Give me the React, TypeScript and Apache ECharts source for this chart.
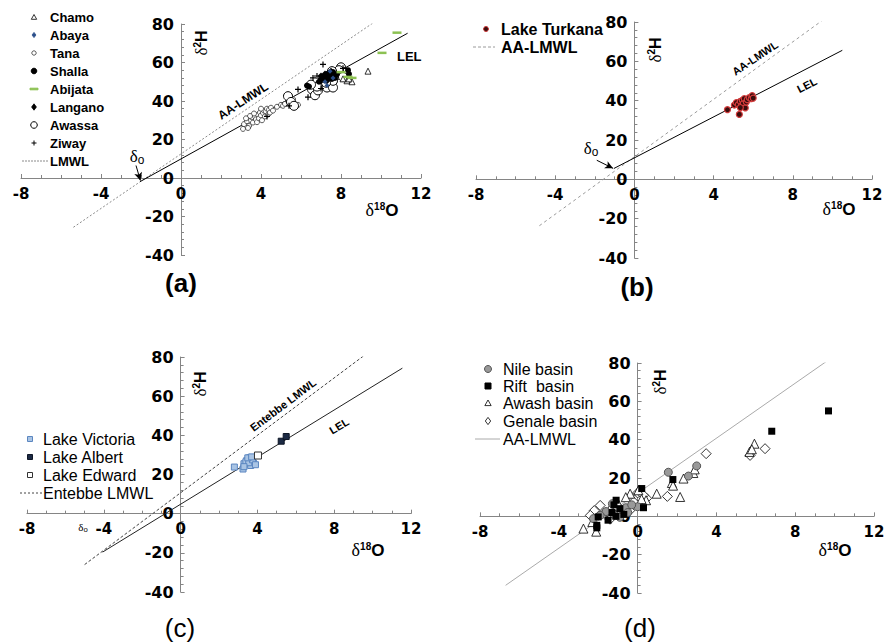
import React, { useEffect, useRef } from "react";
import * as echarts from "echarts";

// ---- axis ranges / tick labels ----
const X_RANGE = [-8, 12];
const X_STEP = 4;
const Y_RANGE = [-40, 80];
const Y_STEP = 20;

// ---- panel (a) ----
const lmwlA = [[-5.38, -25.6], [10.3, 85.5]];
const lelA = [[-2.05, -1.9], [11.33, 75.2]];
const arrowA = [[-2.25, 6.5], [-2.03, -1.3]];
const tana = [
  [3.1, 25.5], [3.15, 28], [3.3, 29.5], [3.4, 27], [3.5, 30], [3.55, 31.5], [3.6, 28.8], [3.7, 32],
  [3.75, 30.5], [3.8, 29], [3.85, 33], [3.9, 31], [3.95, 34], [4.0, 32.5], [4.05, 30], [4.1, 33.8],
  [4.15, 35], [4.2, 32], [4.25, 34.5], [4.3, 36], [4.35, 33], [4.4, 35.5], [4.45, 34], [4.5, 36.5],
  [3.65, 33.5], [3.45, 32.2], [4.6, 35], [4.0, 36], [4.8, 37], [5.0, 38], [5.1, 37.5], [5.2, 38.5],
  [5.35, 40], [5.5, 39], [5.6, 41], [5.7, 37], [5.85, 38], [5.4, 42.5], [3.25, 31], [3.35, 26]
];
const awassa = [
  [5.35, 42.5], [5.5, 39.5], [5.65, 37.5], [6.55, 46], [6.7, 43], [6.85, 45.5], [7.0, 48.5], [7.3, 47],
  [7.6, 47], [7.1, 51.5], [7.45, 53], [7.8, 53.5], [8.0, 57.5], [8.2, 55], [7.9, 56], [7.6, 50.5],
  [6.8, 47.5], [8.1, 52.5], [7.25, 49.5], [6.5, 48.5], [7.55, 55.5]
];
const shalla = [
  [6.3, 48], [6.4, 47.5], [7.0, 51], [7.2, 52.5], [7.4, 54.5], [7.5, 53], [7.6, 55], [7.7, 52],
  [7.8, 54], [8.4, 54], [8.35, 56], [6.9, 50], [7.3, 54], [7.55, 51.5]
];
const langano = [[7.0, 53], [7.2, 54], [7.4, 52], [7.6, 53.5], [7.1, 51], [7.5, 55.5], [7.3, 50.5]];
const abaya = [[7.45, 55.5], [7.2, 50], [7.6, 52], [7.3, 48]];
const ziway = [[7.1, 59], [6.35, 42], [4.3, 32], [5.85, 46], [6.6, 52], [5.4, 37.5], [7.0, 46.5], [6.8, 53], [8.1, 57]];
const chamo = [[9.35, 55.5], [8.3, 50.5], [8.55, 50], [8.1, 51.5], [8.4, 51.5]];
const abijata = [[10.8, 75.5], [10.05, 65], [8.35, 52.5], [8.0, 55], [8.55, 52]];

// ---- panel (b) ----
const lmwlB = [[-4.8, -23.6], [10.3, 86.7]];
const lelB = [[-1.04, 5.5], [10.5, 65.6]];
const arrowB = [[-1.9, 9.7], [-1.08, 5.6]];
const turkana = [
  [4.7, 35.4], [5.05, 37.8], [5.15, 39], [5.25, 38], [5.3, 33], [5.35, 39.6], [5.4, 37.2], [5.45, 40.2],
  [5.5, 38.5], [5.55, 41], [5.6, 36.3], [5.65, 39.3], [5.7, 40.5], [5.8, 41.5], [5.9, 41], [5.95, 42.6],
  [6.0, 41.3], [5.35, 36.5]
];

// ---- panel (c) ----
const entebbe = [[-5, -26], [10.3, 86.2]];
const lelC = [[-4.06, -19.6], [11.55, 74.3]];
const victoria = [
  [2.8, 23.8], [3.25, 22.8], [3.3, 25.5], [3.45, 27.2], [3.6, 28.6], [3.8, 25.8], [3.65, 24.6],
  [3.4, 26.5], [3.55, 26], [3.75, 27.5], [3.9, 25], [3.3, 24], [3.5, 28.5], [3.7, 29]
];
const albert = [[5.24, 37], [5.5, 39.4]];
const edward = [[4.03, 29.7]];

// ---- panel (d) ----
const lmwlD = [[-6.7, -36], [9.68, 81.5]];
const nile = [
  [1.56, 23], [2.58, 21], [3.0, 26.3], [-1.28, 6.6], [-2.24, -1.2], [0.0, 5], [-0.8, 3.5], [-1.2, 1],
  [-0.6, 4.5], [-1.6, 2.5], [-0.3, 6], [-0.9, -0.5], [-1.9, 0.5], [-0.5, 2]
];
const rift = [
  [0.21, 14.5], [1.79, 19.2], [0.3, 4.5], [-1.09, 8.4], [-2.0, -0.3], [-2.07, -4.7], [-1.1, 0],
  [-1.3, 2], [-0.9, 4], [-1.5, -2], [-1.2, 6], [-0.7, 1], [6.81, 44.4], [9.69, 55.0], [-2.07, -6]
];
const awash = [
  [-2.75, -6.4], [-0.38, 11.8], [0.04, 13.6], [0.43, 8.4], [0.97, 11.8], [1.74, 17.4], [2.16, 10.1],
  [2.33, 19.7], [2.83, 22.6], [5.68, 33.6], [5.93, 37.9], [5.8, 35], [-0.6, 10], [-1.0, 7], [0.2, 9],
  [-1.4, 4], [-2.3, -3], [1.8, 16], [2.9, 24.5], [-2.1, -8]
];
const genale = [
  [3.48, 32.7], [1.51, 10.4], [-1.9, 5.7], [0.0, 12.2], [0.46, 9.4], [6.47, 35.3], [5.71, 31.8],
  [-2.2, 3], [-1.7, 1.5], [-1.4, -1.5], [-0.4, 3], [-0.2, 7.5], [-2.4, 0.5], [0.3, 11], [-1.1, 5.5]
];

const SANS = '"Liberation Sans", Arial, sans-serif';
const TICKFONT = '"DejaVu Sans", sans-serif';
const SERIF = '"Liberation Serif", "DejaVu Serif", serif';
const AXIS_GREY = "#858585";
const CROSS = "path://M4,0h2v4h4v2h-4v4h-2v-4h-4v-2h4z";

const grids = [
  { left: 21, top: 24, width: 400, height: 231 },
  { left: 476, top: 22, width: 396, height: 236 },
  { left: 27, top: 357, width: 384, height: 235 },
  { left: 480, top: 363, width: 394, height: 230 },
];

// fraction of the axis span that lies below/left of zero
const X_ZERO_FRAC = (0 - X_RANGE[0]) / (X_RANGE[1] - X_RANGE[0]);
const Y_ZERO_FRAC = (0 - Y_RANGE[0]) / (Y_RANGE[1] - Y_RANGE[0]);

function makeX(i: number) {
  return {
    gridIndex: i, type: "value", min: X_RANGE[0], max: X_RANGE[1], interval: X_STEP,
    position: "bottom", offset: -grids[i].height * Y_ZERO_FRAC,
    axisLine: { onZero: false, lineStyle: { color: AXIS_GREY, width: 1 } },
    axisTick: { inside: true, length: 4, lineStyle: { color: AXIS_GREY } },
    minorTick: { show: true, splitNumber: 4, length: 3, lineStyle: { color: AXIS_GREY } },
    splitLine: { show: false },
    axisLabel: { color: "#000", fontWeight: "bold", fontSize: 15, fontFamily: TICKFONT, margin: 8 },
  };
}
function makeY(i: number) {
  return {
    gridIndex: i, type: "value", min: Y_RANGE[0], max: Y_RANGE[1], interval: Y_STEP,
    position: "left", offset: -grids[i].width * X_ZERO_FRAC,
    axisLine: { onZero: false, lineStyle: { color: AXIS_GREY, width: 1 } },
    axisTick: { inside: true, length: 4, lineStyle: { color: AXIS_GREY } },
    minorTick: { show: true, splitNumber: 5, length: 3, lineStyle: { color: AXIS_GREY } },
    splitLine: { show: false },
    axisLabel: { color: "#000", fontWeight: "bold", fontSize: 16, fontFamily: TICKFONT, margin: 7 },
  };
}

function lineSeries(name: string, i: number, data: number[][], ls: any, extra: any = {}) {
  return {
    name, type: "line", xAxisIndex: i, yAxisIndex: i, data, symbol: "none", silent: true,
    lineStyle: ls, z: 2, ...extra,
  };
}
function scatter(name: string, i: number, data: number[][], symbol: string, size: any, style: any) {
  return {
    name, type: "scatter", xAxisIndex: i, yAxisIndex: i, data, symbol, symbolSize: size,
    itemStyle: { opacity: 1, ...style }, silent: true, z: 3,
  };
}
function arrowMark(data: number[][]) {
  return {
    markLine: {
      silent: true, symbol: ["none", "arrow"], symbolSize: [6, 8],
      label: { show: false }, lineStyle: { color: "#000", width: 1, type: "solid" },
      data: [[{ coord: data[0] }, { coord: data[1] }]],
    },
  };
}

// ---- graphic helpers ----
function txt(x: number, y: number, text: string, size: number, weight = "bold", family = SANS, extra: any = {}) {
  return {
    type: "text", x, y, silent: true,
    style: { text, fill: "#000", fontSize: size, fontWeight: weight, fontFamily: family, align: "left", verticalAlign: "middle", ...extra },
  };
}
function rotTxt(x: number, y: number, text: string, size: number, deg: number) {
  return {
    type: "text", x, y, rotation: (deg * Math.PI) / 180, silent: true,
    style: { text, fill: "#000", fontSize: size, fontWeight: "bold", fontFamily: SANS, align: "center", verticalAlign: "middle" },
  };
}
function circ(cx: number, cy: number, r: number, fill: string, stroke: string, lw = 1) {
  return { type: "circle", silent: true, shape: { cx, cy, r }, style: { fill, stroke, lineWidth: lw } };
}
function tri(x: number, y: number, r: number, fill: string, stroke: string) {
  return { type: "polygon", silent: true, shape: { points: [[x, y - r], [x + r * 0.9, y + r * 0.6], [x - r * 0.9, y + r * 0.6]] }, style: { fill, stroke, lineWidth: 0.8 } };
}
function dia(x: number, y: number, r: number, fill: string, stroke: string) {
  return { type: "polygon", silent: true, shape: { points: [[x, y - r], [x + r * 0.75, y], [x, y + r], [x - r * 0.75, y]] }, style: { fill, stroke, lineWidth: 0.8 } };
}
function box(x: number, y: number, w: number, h: number, fill: string, stroke: string) {
  return { type: "rect", silent: true, shape: { x: x - w / 2, y: y - h / 2, width: w, height: h }, style: { fill, stroke, lineWidth: 1 } };
}
function seg(x1: number, y1: number, x2: number, y2: number, stroke: string, lw = 1, dash: any = null) {
  return { type: "line", silent: true, shape: { x1, y1, x2, y2 }, style: { stroke, lineWidth: lw, lineDash: dash } };
}
function delta2H(x: number, y: number) {
  return {
    type: "text", x, y, rotation: Math.PI / 2, silent: true,
    style: {
      text: "{d|δ}{s|2}{h|H}", align: "center", verticalAlign: "middle", fill: "#000",
      rich: {
        d: { fontFamily: SERIF, fontSize: 17, lineHeight: 18, fill: "#000" },
        s: { fontFamily: SANS, fontWeight: "bold", fontSize: 10, verticalAlign: "top", fill: "#000" },
        h: { fontFamily: SANS, fontWeight: "bold", fontSize: 16, lineHeight: 18, fill: "#000" },
      },
    },
  };
}
function delta18O(x: number, y: number) {
  return {
    type: "text", x, y, silent: true,
    style: {
      text: "{d|δ}{s|18}{o|O}", align: "center", verticalAlign: "middle", fill: "#000",
      rich: {
        d: { fontFamily: SERIF, fontSize: 18, lineHeight: 18, fill: "#000" },
        s: { fontFamily: SANS, fontWeight: "bold", fontSize: 10, verticalAlign: "top", fill: "#000" },
        o: { fontFamily: SANS, fontWeight: "bold", fontSize: 17, lineHeight: 18, fill: "#000" },
      },
    },
  };
}
function deltaO(x: number, y: number, size: number) {
  return {
    type: "text", x, y, silent: true,
    style: {
      text: "{d|δ}{s|o}", align: "center", verticalAlign: "middle", fill: "#000",
      rich: {
        d: { fontFamily: SERIF, fontSize: size, lineHeight: size + 2, fill: "#000" },
        s: { fontFamily: SANS, fontSize: size * 0.7, verticalAlign: "bottom", fill: "#000" },
      },
    },
  };
}
function title(x: number, y: number, text: string, weight: string) {
  const t = txt(x, y, text, 26, weight);
  return { ...t, style: { ...t.style, align: "center" } };
}

export default function App() {
  const ref = useRef<HTMLDivElement>(null);
  useEffect(() => {
    if (!ref.current) return;
    const chart = echarts.init(ref.current, null, { renderer: "svg" });

    const series: any[] = [
      // (a)
      lineSeries("LMWL", 0, lmwlA, { color: "#8a8a8a", width: 1, type: [2, 2] }),
      lineSeries("LEL a", 0, lelA, { color: "#000", width: 1, type: "solid" }, arrowMark(arrowA)),
      scatter("Tana", 0, tana, "circle", 5, { color: "#fff", borderColor: "#333", borderWidth: 0.8 }),
      scatter("Awassa", 0, awassa, "circle", 9, { color: "#fff", borderColor: "#000", borderWidth: 1 }),
      scatter("Shalla", 0, shalla, "circle", 6, { color: "#000" }),
      scatter("Langano", 0, langano, "diamond", 7, { color: "#000" }),
      scatter("Abaya", 0, abaya, "diamond", 5, { color: "#2b4f8a" }),
      scatter("Ziway", 0, ziway, CROSS, 6, { color: "#000" }),
      scatter("Chamo", 0, chamo, "triangle", 6, { color: "#fff", borderColor: "#000", borderWidth: 0.8 }),
      scatter("Abijata", 0, abijata, "rect", [9, 2.5], { color: "#8cc152" }),
      // (b)
      lineSeries("AA-LMWL b", 1, lmwlB, { color: "#9a9a9a", width: 1, type: [3, 3] }),
      lineSeries("LEL b", 1, lelB, { color: "#000", width: 1, type: "solid" }, arrowMark(arrowB)),
      scatter("Lake Turkana", 1, turkana, "circle", 6, { color: "#3b0d0d", borderColor: "#d23b3b", borderWidth: 1.2 }),
      // (c)
      lineSeries("Entebbe LMWL", 2, entebbe, { color: "#444", width: 1, type: [3, 2] }),
      lineSeries("LEL c", 2, lelC, { color: "#222", width: 1, type: "solid" }),
      scatter("Lake Victoria", 2, victoria, "rect", 6, { color: "#a9c4e4", borderColor: "#5b86c0", borderWidth: 1 }),
      scatter("Lake Albert", 2, albert, "rect", 6, { color: "#1c2a44", borderColor: "#0e1626", borderWidth: 1 }),
      scatter("Lake Edward", 2, edward, "rect", 7, { color: "#fff", borderColor: "#333", borderWidth: 1 }),
      // (d)
      lineSeries("AA-LMWL d", 3, lmwlD, { color: "#aaa", width: 1, type: "solid" }),
      scatter("Genale basin", 3, genale, "diamond", 10, { color: "#fff", borderColor: "#000", borderWidth: 0.8 }),
      scatter("Awash basin", 3, awash, "triangle", 9, { color: "#fff", borderColor: "#000", borderWidth: 0.8 }),
      scatter("Nile basin", 3, nile, "circle", 8, { color: "#999", borderColor: "#555", borderWidth: 1 }),
      scatter("Rift basin", 3, rift, "rect", 7, { color: "#000" }),
    ];

    const graphic: any[] = [];
    // legend (a)
    const la = [17, 35, 53, 71, 89, 107, 125, 143, 161];
    const namesA = ["Chamo", "Abaya", "Tana", "Shalla", "Abijata", "Langano", "Awassa", "Ziway", "LMWL"];
    namesA.forEach((n, k) => graphic.push(txt(50, la[k], n, 13)));
    graphic.push(tri(34, la[0] + 0.5, 3, "#fff", "#000"));
    graphic.push(dia(34, la[1], 2.6, "#2b4f8a", "#2b4f8a"));
    graphic.push(circ(34, la[2], 2.2, "#fff", "#333", 0.8));
    graphic.push(circ(34, la[3], 2.8, "#000", "#000"));
    graphic.push(box(34, la[4], 8, 1.6, "#8cc152", "#8cc152"));
    graphic.push(dia(34, la[5], 3.2, "#000", "#000"));
    graphic.push(circ(34, la[6], 3.3, "#fff", "#000"));
    graphic.push(seg(31.5, la[7], 36.5, la[7], "#000", 1), seg(34, la[7] - 2.5, 34, la[7] + 2.5, "#000", 1));
    graphic.push(seg(22, la[8], 48, la[8], "#8a8a8a", 1, [2, 1]));
    // legend (b)
    graphic.push(circ(486, 29, 2.5, "#3b0d0d", "#d23b3b", 1));
    graphic.push(txt(501, 29, "Lake Turkana", 16));
    graphic.push(seg(473, 47, 495, 47, "#9a9a9a", 1, [3, 2]));
    graphic.push(txt(501, 47, "AA-LMWL", 16));
    // legend (c)
    const lc = [439, 457, 475, 493];
    ["Lake Victoria", "Lake Albert", "Lake Edward", "Entebbe LMWL"].forEach((n, k) => graphic.push(txt(43, lc[k], n, 16, "normal")));
    graphic.push(box(30, lc[0], 5, 5, "#a9c4e4", "#5b86c0"));
    graphic.push(box(30, lc[1], 5, 5, "#1c2a44", "#0e1626"));
    graphic.push(box(30, lc[2], 5, 5, "#fff", "#333"));
    graphic.push(seg(20, lc[3], 42, lc[3], "#444", 1, [2, 2]));
    // legend (d)
    const ld = [369, 386, 403, 421, 439];
    ["Nile basin", "Rift  basin", "Awash basin", "Genale basin", "AA-LMWL"].forEach((n, k) => graphic.push(txt(503, ld[k], n, 16, "normal")));
    graphic.push(circ(488, ld[0], 3.5, "#999", "#555"));
    graphic.push(box(488, ld[1], 6, 6, "#000", "#000"));
    graphic.push(tri(488, ld[2] + 0.5, 3.5, "#fff", "#000"));
    graphic.push(dia(488, ld[3], 3.6, "#fff", "#000"));
    graphic.push(seg(475, ld[4], 500, ld[4], "#aaa", 1));

    // axis titles
    graphic.push(delta2H(201, 43), delta2H(655, 50), delta2H(200, 384), delta2H(660, 382));
    graphic.push(delta18O(382, 210), delta18O(839, 209), delta18O(368, 550), delta18O(835, 550));
    // delta-o
    graphic.push(deltaO(137, 156, 17), deltaO(591, 148, 17), deltaO(83, 527, 11));
    // line annotations
    graphic.push(rotTxt(243, 101, "AA-LMWL", 12, 33));
    graphic.push(txt(397, 56, "LEL", 13));
    graphic.push(rotTxt(755, 58, "AA-LMWL", 11, 34));
    graphic.push(rotTxt(807, 85, "LEL", 11, 27));
    graphic.push(rotTxt(283, 405, "Entebbe LMWL", 11, 37));
    graphic.push(rotTxt(339, 426, "LEL", 11, 31));
    // panel titles
    graphic.push(title(181, 283, "(a)", "bold"), title(637, 287, "(b)", "bold"));
    graphic.push(title(180, 628, "(c)", "normal"), title(640, 628, "(d)", "normal"));

    chart.setOption({
      animation: false,
      backgroundColor: "#fff",
      grid: grids.map((g) => ({ ...g, containLabel: false, outerBoundsMode: "none" })),
      xAxis: grids.map((_, i) => makeX(i)),
      yAxis: grids.map((_, i) => makeY(i)),
      series,
      graphic,
    });
    return () => chart.dispose();
  }, []);
  return <div ref={ref} style={{ position: "absolute", left: 0, top: 0, width: 889, height: 643, background: "#fff" }} />;
}
